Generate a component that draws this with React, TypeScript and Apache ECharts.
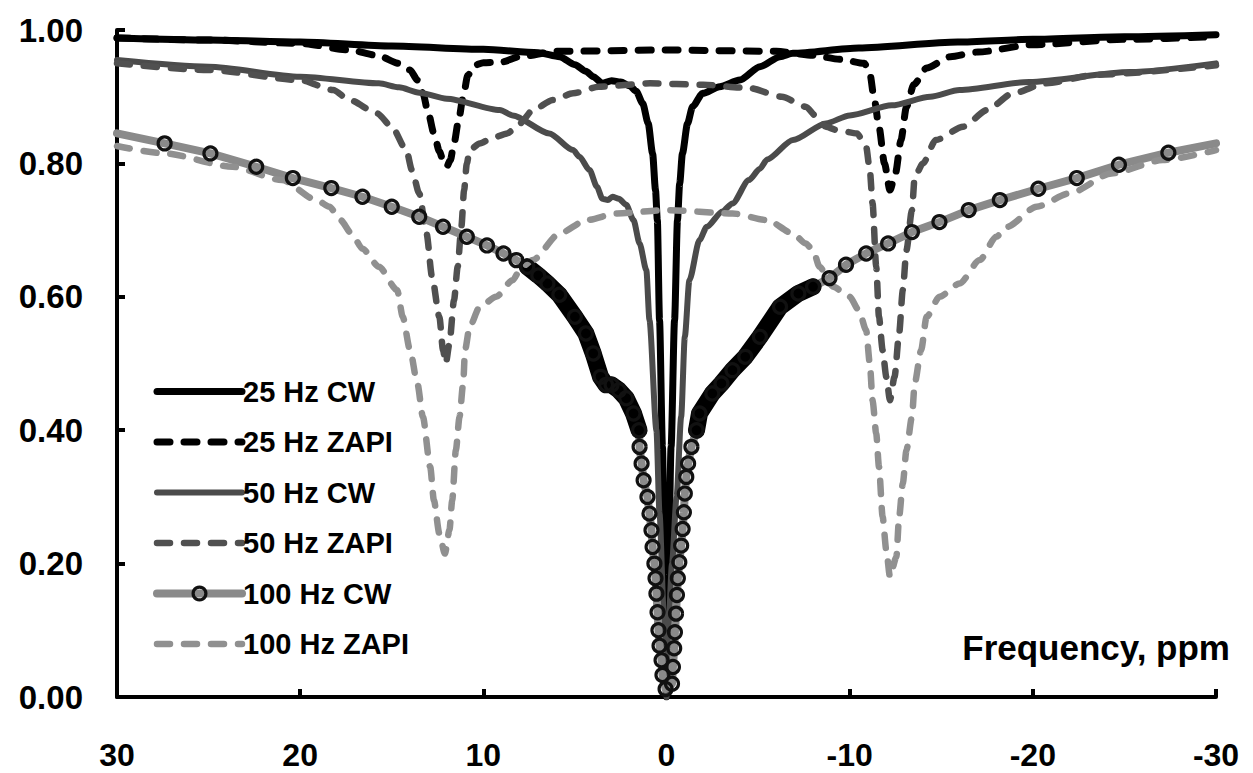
import React, { useEffect, useRef } from "react";
import * as echarts from "echarts";

const seriesNames = ["25 Hz CW", "25 Hz ZAPI", "50 Hz CW", "50 Hz ZAPI", "100 Hz CW", "100 Hz ZAPI"];
const yTickDecimals = 2;
const axisTitle = "Frequency, ppm";

const cw25: [number, number][] = [
  [30, 0.988], [25, 0.985], [20, 0.982], [15, 0.976], [10, 0.971], [7, 0.966], [5.84, 0.96], [5.0, 0.948],
  [4.4, 0.938], [4.0, 0.93], [3.5, 0.92], [3.0, 0.924], [2.5, 0.922], [2.0, 0.916], [1.65, 0.908], [1.3, 0.89],
  [1.0, 0.86], [0.76, 0.815], [0.6, 0.76], [0.5, 0.715], [0.38, 0.565], [0.22, 0.375], [0.1, 0.18], [0, 0],
  [-0.1, 0.18], [-0.25, 0.375], [-0.44, 0.565], [-0.6, 0.715], [-0.72, 0.77], [-0.87, 0.815], [-1.15, 0.86],
  [-1.42, 0.885], [-1.97, 0.905], [-2.9, 0.915], [-4.0, 0.925], [-5.1, 0.945], [-6.2, 0.96], [-6.9, 0.965],
  [-10.5, 0.973], [-15.9, 0.982], [-20, 0.986], [-25, 0.99], [-30, 0.993],
];

const zapi25: [number, number][] = [
  [30, 0.988], [25, 0.985], [20, 0.98], [17.3, 0.97], [15.8, 0.962], [14.6, 0.95], [14.0, 0.94], [13.6, 0.925],
  [13.3, 0.905], [13.0, 0.875], [12.7, 0.845], [12.4, 0.818], [12.15, 0.8], [12.0, 0.795], [11.8, 0.805],
  [11.6, 0.83], [11.35, 0.865], [11.1, 0.9], [10.85, 0.932], [10.5, 0.947], [10.0, 0.951], [9.0, 0.952],
  [8.0, 0.96], [6.0, 0.968], [0, 0.97], [-6, 0.968], [-8, 0.962], [-9.5, 0.956], [-10.8, 0.95], [-11.1, 0.935],
  [-11.35, 0.895], [-11.6, 0.855], [-11.9, 0.8], [-12.2, 0.76], [-12.5, 0.785], [-12.8, 0.835], [-13.1, 0.885],
  [-13.5, 0.918], [-14.2, 0.943], [-15.5, 0.96], [-17, 0.967], [-20, 0.978], [-25, 0.986], [-30, 0.99],
];

const cw50: [number, number][] = [
  [30, 0.955], [25, 0.945], [20, 0.93], [15.7, 0.92], [14.6, 0.914], [13.5, 0.906], [12, 0.897], [9.1, 0.88],
  [8.4, 0.872], [6.4, 0.845], [5.1, 0.82], [4.75, 0.81], [4.2, 0.79], [3.8, 0.765], [3.5, 0.747], [3.2, 0.745],
  [2.95, 0.75], [2.6, 0.747], [2.2, 0.738], [1.8, 0.715], [1.47, 0.68], [1.1, 0.64], [0.93, 0.565], [0.55, 0.4],
  [0.38, 0.275], [0.15, 0.125], [0, 0], [-0.1, 0.1], [-0.3, 0.2], [-0.55, 0.3], [-0.8, 0.42], [-1.0, 0.54],
  [-1.25, 0.625], [-1.8, 0.685], [-2.2, 0.705], [-3.05, 0.728], [-3.6, 0.74], [-4.5, 0.775], [-5.1, 0.792],
  [-5.5, 0.806], [-6.9, 0.835], [-8.7, 0.86], [-10, 0.872], [-12.3, 0.887], [-14.4, 0.9], [-16, 0.91],
  [-19.8, 0.922], [-25.3, 0.937], [-30, 0.95],
];

const zapi50: [number, number][] = [
  [30, 0.95], [25, 0.94], [20, 0.925], [18.2, 0.91], [17.3, 0.895], [15.8, 0.875], [15.0, 0.855], [14.2, 0.82],
  [13.9, 0.79], [13.5, 0.755], [13.1, 0.695], [12.8, 0.63], [12.4, 0.57], [12.2, 0.52], [12.05, 0.5],
  [11.85, 0.53], [11.6, 0.595], [11.4, 0.645], [11.2, 0.705], [11.05, 0.76], [10.9, 0.8], [10.75, 0.82],
  [10.2, 0.83], [9.5, 0.838], [8.7, 0.845], [8.0, 0.86], [7.3, 0.88], [6.2, 0.895], [5.1, 0.905], [3.7, 0.915],
  [0.9, 0.92], [-2, 0.918], [-4.5, 0.913], [-6.3, 0.9], [-7.6, 0.885], [-8.2, 0.87], [-8.7, 0.855], [-9.3, 0.85],
  [-10.4, 0.845], [-10.9, 0.825], [-11.1, 0.79], [-11.25, 0.74], [-11.45, 0.645], [-11.6, 0.57], [-11.8, 0.52],
  [-12.0, 0.48], [-12.2, 0.445], [-12.45, 0.48], [-12.7, 0.545], [-12.9, 0.61], [-13.1, 0.67], [-13.4, 0.73],
  [-13.55, 0.78], [-14.0, 0.8], [-14.7, 0.835], [-16.2, 0.855], [-17.5, 0.88], [-18.9, 0.905], [-20.7, 0.92],
  [-23.5, 0.933], [-30, 0.947],
];

// 100 Hz CW: outer markers, dense band and inner markers
const cw100Outer: [number, number][] = [
  [30, 0.845], [27.4, 0.83], [24.9, 0.815], [22.4, 0.795], [20.4, 0.778], [18.3, 0.763], [16.6, 0.75],
  [15.0, 0.735], [13.5, 0.72], [12.2, 0.705], [10.9, 0.69], [9.8, 0.677], [8.9, 0.665], [8.2, 0.655],
];
const cw100BandLeft: [number, number][] = [
  [7.6, 0.645], [7.0, 0.632], [6.5, 0.62], [5.85, 0.603], [5.0, 0.57], [4.4, 0.545], [4.0, 0.515],
  [3.6, 0.48], [3.3, 0.468], [3.0, 0.468], [2.6, 0.46], [2.2, 0.448], [1.8, 0.425], [1.5, 0.4],
];
const cw100Inner: [number, number][] = [
  [1.47, 0.375], [1.36, 0.35], [1.25, 0.325], [1.04, 0.3], [0.93, 0.275], [0.82, 0.25], [0.76, 0.225],
  [0.66, 0.2], [0.6, 0.178], [0.55, 0.155], [0.49, 0.127], [0.44, 0.1], [0.38, 0.077], [0.27, 0.055],
  [0.22, 0.033], [0.05, 0.012], [-0.3, 0.02], [-0.35, 0.045], [-0.42, 0.073], [-0.46, 0.097], [-0.52, 0.125],
  [-0.57, 0.153], [-0.62, 0.178], [-0.7, 0.202], [-0.8, 0.227], [-0.88, 0.252], [-0.95, 0.277], [-1.0, 0.305],
  [-1.08, 0.33], [-1.18, 0.35], [-1.36, 0.375],
];
const cw100BandRight: [number, number][] = [
  [-1.64, 0.4], [-1.8, 0.425], [-2.5, 0.455], [-3.0, 0.47], [-3.6, 0.49], [-4.3, 0.51], [-5.1, 0.54],
  [-6.2, 0.585], [-7.2, 0.605], [-8.0, 0.615],
];
const cw100OuterRight: [number, number][] = [
  [-8.9, 0.628], [-9.8, 0.648], [-10.9, 0.665], [-12.1, 0.68], [-13.4, 0.697], [-14.9, 0.712], [-16.5, 0.73],
  [-18.2, 0.745], [-20.3, 0.762], [-22.4, 0.778], [-24.7, 0.798], [-27.4, 0.816], [-30, 0.83],
];

const zapi100: [number, number][] = [
  [30, 0.826], [27.4, 0.815], [23.7, 0.795], [21, 0.775], [19.1, 0.745], [18.4, 0.735], [17.8, 0.715],
  [17.2, 0.695], [16.6, 0.672], [15.7, 0.645], [14.7, 0.61], [14.4, 0.57], [14.0, 0.52], [13.6, 0.47],
  [13.3, 0.42], [12.9, 0.345], [12.7, 0.295], [12.4, 0.245], [12.1, 0.215], [11.85, 0.25], [11.7, 0.295],
  [11.5, 0.37], [11.3, 0.42], [11.1, 0.47], [11.0, 0.52], [10.75, 0.555], [10.2, 0.585], [9.3, 0.6],
  [8.4, 0.625], [7.9, 0.645], [7.3, 0.655], [5.84, 0.695], [4.37, 0.715], [2.7, 0.725], [0, 0.73],
  [-3.6, 0.725], [-5.5, 0.715], [-6.9, 0.695], [-7.6, 0.68], [-8.0, 0.67], [-8.35, 0.645], [-9.1, 0.615],
  [-10, 0.6], [-10.5, 0.58], [-10.9, 0.55], [-11.1, 0.5], [-11.25, 0.445], [-11.45, 0.395], [-11.6, 0.345],
  [-11.8, 0.27], [-12.0, 0.22], [-12.2, 0.18], [-12.55, 0.21], [-12.7, 0.27], [-12.9, 0.32], [-13.1, 0.37],
  [-13.4, 0.42], [-13.55, 0.47], [-13.9, 0.52], [-14.2, 0.57], [-14.9, 0.6], [-16, 0.62], [-17.1, 0.655],
  [-18, 0.69], [-18.6, 0.705], [-20.2, 0.735], [-22, 0.755], [-24.3, 0.785], [-27.1, 0.805], [-30, 0.82],
];

const FONT = "'Liberation Sans', Arial, Helvetica, sans-serif";
const colors = ["#000000", "#000000", "#4b4b4b", "#505050", "#8a8a8a", "#909090"];
const widths = [7, 7, 6, 6.5, 8, 6.5];
const dash = [13, 14];
const markerStyle = { color: "rgba(0,0,0,0)", borderColor: "#111", borderWidth: 3.2 };

export default function App() {
  const ref = useRef<HTMLDivElement>(null);
  useEffect(() => {
    document.body.style.margin = "0";
    const chart = echarts.init(ref.current!, null, { renderer: "svg" });

    const cw100All = [...cw100Outer, ...cw100BandLeft, ...cw100Inner, ...cw100BandRight, ...cw100OuterRight];
    const cw100Data = cw100All.map((p, i) =>
      i === 0 || i === cw100All.length - 1 ? { value: p, symbol: "none" } : { value: p }
    );

    const plain = (name: string, data: [number, number][], idx: number, dashed: boolean) => ({
      name,
      type: "line",
      data,
      symbol: "none",
      smooth: 0.25,
      smoothMonotone: "x",
      color: colors[idx],
      lineStyle: {
        color: colors[idx],
        width: widths[idx],
        type: dashed ? dash : "solid",
        cap: "round",
        join: "round",
      },
    });

    const option: any = {
      animation: false,
      backgroundColor: "#ffffff",
      grid: { left: 117, right: 37, top: 30, bottom: 76, containLabel: false },
      xAxis: {
        type: "value",
        min: -30,
        max: 30,
        interval: 10,
        inverse: true,
        axisLine: { onZero: false, lineStyle: { color: "#000", width: 4 } },
        axisTick: { inside: true, length: 8, lineStyle: { color: "#000", width: 4 } },
        splitLine: { show: false },
        axisLabel: { color: "#000", fontSize: 32, fontWeight: "bold", fontFamily: FONT, margin: 42 },
      },
      yAxis: {
        type: "value",
        min: 0,
        max: 1,
        interval: 0.2,
        axisLine: { show: true, onZero: false, lineStyle: { color: "#000", width: 4 } },
        axisTick: { show: true, inside: true, length: 8, lineStyle: { color: "#000", width: 4 } },
        splitLine: { show: false },
        axisLabel: {
          color: "#000",
          fontSize: 33,
          fontWeight: "bold",
          fontFamily: FONT,
          margin: 34,
          formatter: (v: number) => v.toFixed(yTickDecimals),
        },
      },
      legend: {
        orient: "vertical",
        left: 153,
        top: 377,
        padding: 0,
        itemWidth: 85,
        itemHeight: 16,
        itemGap: 21.5,
        textStyle: { color: "#000", fontSize: 29, fontWeight: "bold", fontFamily: FONT, padding: [0, 0, 0, -4] },
        data: seriesNames.map((n, i) => ({
          name: n,
          lineStyle: { width: widths[i] },
          itemStyle: i === 4 ? markerStyle : { opacity: 0, borderWidth: 0, color: "rgba(0,0,0,0)" },
        })),
      },
      graphic: [
        {
          type: "text",
          x: 1230,
          y: 647,
          style: {
            text: axisTitle,
            fontSize: 35,
            fontWeight: "bold",
            fontFamily: FONT,
            fill: "#000",
            align: "right",
            verticalAlign: "middle",
          },
        },
      ],
      series: [
        plain(seriesNames[0], cw25, 0, false),
        plain(seriesNames[1], zapi25, 1, true),
        plain(seriesNames[2], cw50, 2, false),
        plain(seriesNames[3], zapi50, 3, true),
        {
          name: seriesNames[4],
          type: "line",
          data: cw100Data,
          symbol: "circle",
          symbolSize: 13,
          showAllSymbol: true,
          color: colors[4],
          lineStyle: { color: colors[4], width: widths[4], cap: "round", join: "round" },
          itemStyle: markerStyle,
        },
        {
          name: "band-left",
          type: "line",
          data: cw100BandLeft,
          symbol: "none",
          silent: true,
          lineStyle: { color: "#000", width: 17, cap: "round", join: "round" },
        },
        {
          name: "band-right",
          type: "line",
          data: cw100BandRight,
          symbol: "none",
          silent: true,
          lineStyle: { color: "#000", width: 17, cap: "round", join: "round" },
        },
        plain(seriesNames[5], zapi100, 5, true),
      ],
    };
    chart.setOption(option);
    return () => chart.dispose();
  }, []);
  return <div ref={ref} style={{ width: 1253, height: 773 }} />;
}
